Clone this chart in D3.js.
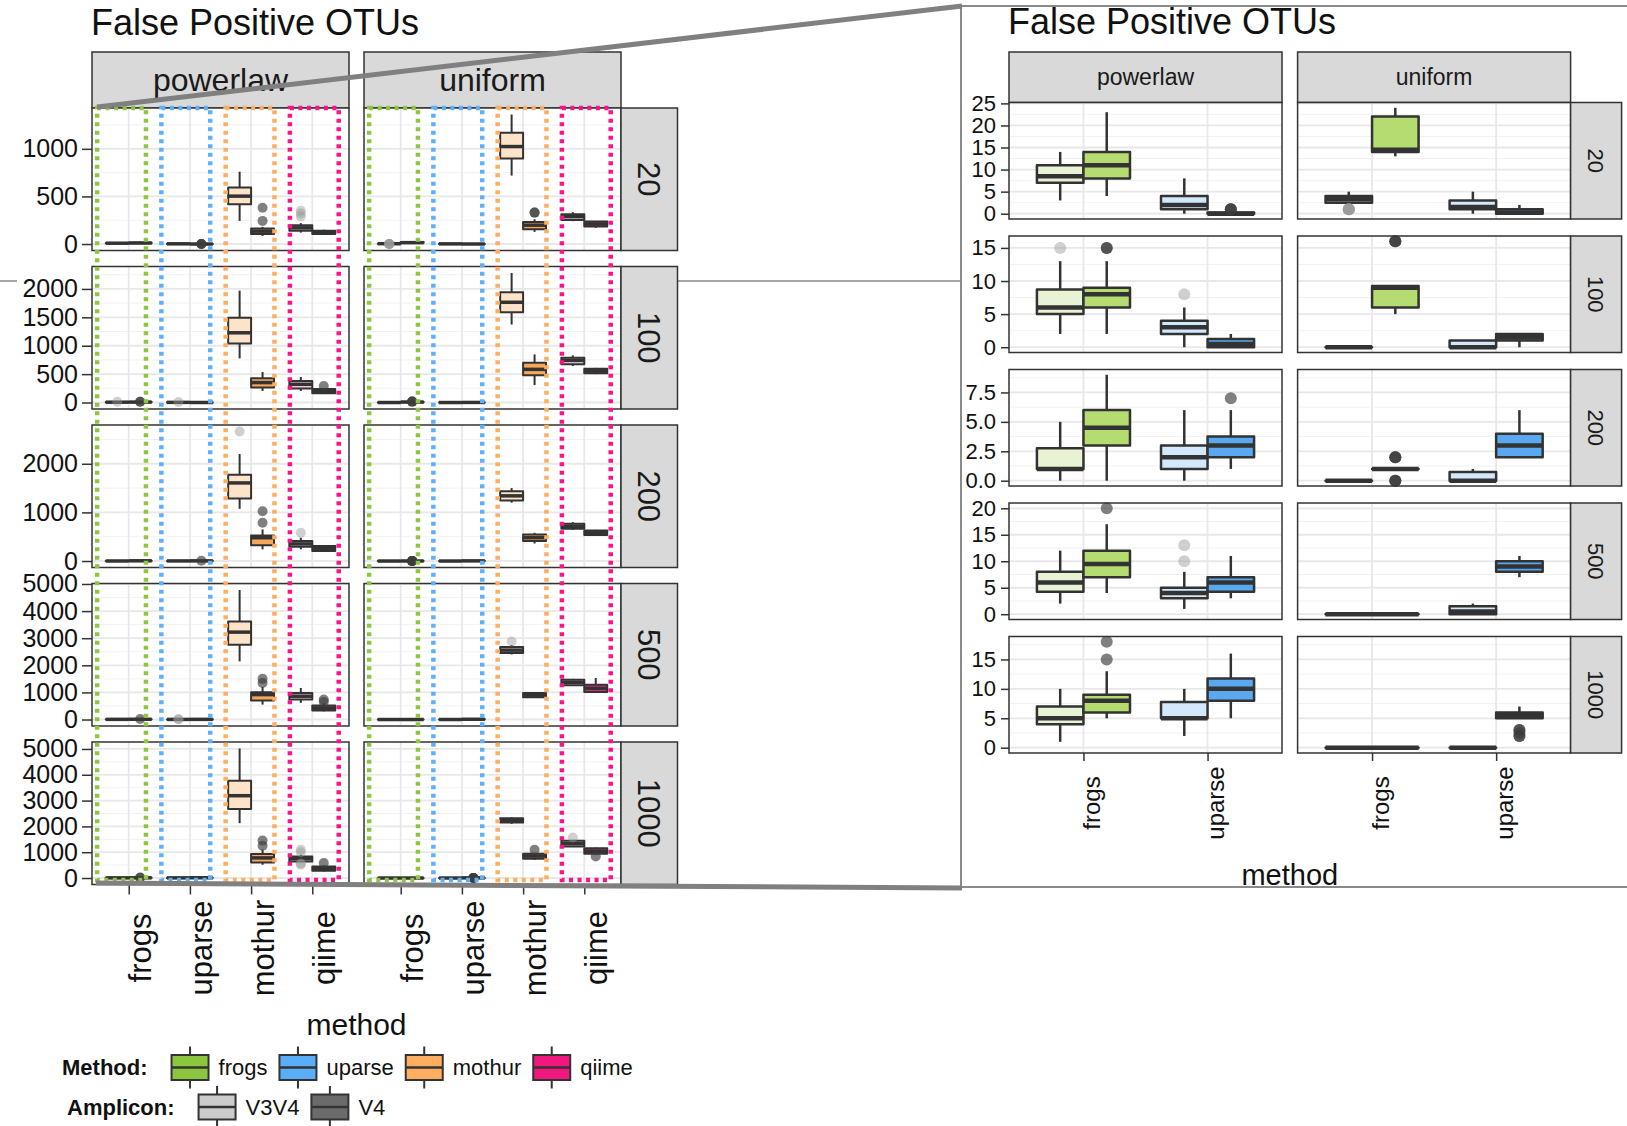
<!DOCTYPE html>
<html>
<head>
<meta charset="utf-8">
<script src="https://cdn.jsdelivr.net/npm/d3@7"></script>
<style>
	body { margin: 0; background: #fff; }
	svg { display: block; font-family: "Liberation Sans", Arial, sans-serif; }
</style>
</head>
<body>
<svg id="chart" width="1627" height="1126"></svg>
<script>
const svg = d3.select("svg#chart");

const methods = ["frogs", "uparse", "mothur", "qiime"];
const insetMethods = ["frogs", "uparse"];
const distributions = ["powerlaw", "uniform"];
const depths = ["20", "100", "200", "500", "1000"];
const amplicons = ["V3V4", "V4"];

// [distribution, method, amplicon, lower whisker, q1, median, q3, upper whisker, outliers]
const stats20 = [
	["powerlaw", "frogs", "V3V4", 3, 7, 8.5, 11, 14, []],
	["powerlaw", "frogs", "V4", 4, 8, 11, 14, 23, []],
	["powerlaw", "uparse", "V3V4", 0, 1, 2, 4, 8, []],
	["powerlaw", "uparse", "V4", 0, 0, 0, 0.25, 0.5, [1, 1, 1]],
	["powerlaw", "mothur", "V3V4", 243, 417, 503, 594, 760, []],
	["powerlaw", "mothur", "V4", 85, 104, 135, 163, 180, [243, 382]],
	["powerlaw", "qiime", "V3V4", 120, 139, 170, 198, 220, [290, 320, 350]],
	["powerlaw", "qiime", "V4", 95, 104, 125, 139, 150, []],
	["uniform", "frogs", "V3V4", 2, 2.5, 3.3, 4, 5, [1, 1, 1, 1, 1]],
	["uniform", "frogs", "V4", 13, 14, 14.5, 22, 24, []],
	["uniform", "uparse", "V3V4", 0, 1, 1.5, 3, 5, []],
	["uniform", "uparse", "V4", 0, 0, 0.3, 1, 2, []],
	["uniform", "mothur", "V3V4", 719, 899, 1024, 1170, 1361, []],
	["uniform", "mothur", "V4", 128, 156, 198, 232, 260, [330, 330]],
	["uniform", "qiime", "V3V4", 240, 253, 288, 312, 335, []],
	["uniform", "qiime", "V4", 170, 184, 210, 236, 240, []]
];
const stats100 = [
	["powerlaw", "frogs", "V3V4", 2, 5, 6, 8.7, 13, [15]],
	["powerlaw", "frogs", "V4", 2, 6, 8, 9, 13, [15, 15]],
	["powerlaw", "uparse", "V3V4", 0, 2, 3, 4, 6, [8]],
	["powerlaw", "uparse", "V4", 0, 0, 0.5, 1.25, 2, []],
	["powerlaw", "mothur", "V3V4", 777, 1040, 1228, 1491, 1970, []],
	["powerlaw", "mothur", "V4", 204, 263, 351, 426, 537, []],
	["powerlaw", "qiime", "V3V4", 204, 246, 321, 379, 449, []],
	["powerlaw", "qiime", "V4", 150, 163, 198, 240, 250, [291]],
	["uniform", "frogs", "V3V4", 0, 0, 0, 0, 0, []],
	["uniform", "frogs", "V4", 5, 6, 9, 9.25, 9.25, [16, 16, 16]],
	["uniform", "uparse", "V3V4", 0, 0, 0, 1, 1, []],
	["uniform", "uparse", "V4", 0, 1, 1.5, 2, 2, []],
	["uniform", "mothur", "V3V4", 1374, 1589, 1765, 1940, 2281, []],
	["uniform", "mothur", "V4", 309, 479, 584, 702, 847, []],
	["uniform", "qiime", "V3V4", 642, 672, 742, 789, 830, []],
	["uniform", "qiime", "V4", 500, 514, 556, 596, 610, []]
];
const stats200 = [
	["powerlaw", "frogs", "V3V4", 0, 1, 1, 2.75, 5, []],
	["powerlaw", "frogs", "V4", 0, 3, 4.5, 6, 9, []],
	["powerlaw", "uparse", "V3V4", 0, 1, 2, 3, 6, []],
	["powerlaw", "uparse", "V4", 1, 2, 3, 3.75, 6, [7]],
	["powerlaw", "mothur", "V3V4", 1073, 1285, 1606, 1776, 2200, [2664]],
	["powerlaw", "mothur", "V4", 240, 322, 479, 527, 650, [787, 1025]],
	["powerlaw", "qiime", "V3V4", 240, 295, 352, 410, 479, [582]],
	["powerlaw", "qiime", "V4", 190, 205, 260, 307, 320, []],
	["uniform", "frogs", "V3V4", 0, 0, 0, 0, 0, []],
	["uniform", "frogs", "V4", 1, 1, 1, 1, 1, [0, 0, 0, 2, 2, 2]],
	["uniform", "uparse", "V3V4", 0, 0, 0, 0.75, 1, []],
	["uniform", "uparse", "V4", 2, 2, 3, 4, 6, []],
	["uniform", "mothur", "V3V4", 1200, 1244, 1340, 1434, 1500, []],
	["uniform", "mothur", "V4", 360, 410, 480, 547, 580, []],
	["uniform", "qiime", "V3V4", 640, 664, 715, 766, 800, []],
	["uniform", "qiime", "V4", 520, 533, 580, 629, 640, []]
];
const stats500 = [
	["powerlaw", "frogs", "V3V4", 2, 4.25, 6, 8, 12, []],
	["powerlaw", "frogs", "V4", 4, 7, 9.5, 12, 17, [20]],
	["powerlaw", "uparse", "V3V4", 1, 3, 4, 5, 8, [10, 13]],
	["powerlaw", "uparse", "V4", 3, 4.25, 6, 7, 11, []],
	["powerlaw", "mothur", "V3V4", 2145, 2757, 3224, 3614, 4779, []],
	["powerlaw", "mothur", "V4", 551, 699, 919, 1004, 1200, [1350, 1500]],
	["powerlaw", "qiime", "V3V4", 614, 735, 860, 982, 1165, []],
	["powerlaw", "qiime", "V4", 300, 331, 420, 515, 600, [650, 735]],
	["uniform", "frogs", "V3V4", 0, 0, 0, 0, 0, []],
	["uniform", "frogs", "V4", 0, 0, 0, 0, 0, []],
	["uniform", "uparse", "V3V4", 0, 0, 0.5, 1.5, 2, []],
	["uniform", "uparse", "V4", 7, 8, 9, 10, 11, []],
	["uniform", "mothur", "V3V4", 2400, 2451, 2560, 2672, 2750, [2880]],
	["uniform", "mothur", "V4", 800, 820, 900, 982, 1000, []],
	["uniform", "qiime", "V3V4", 1250, 1261, 1370, 1471, 1500, []],
	["uniform", "qiime", "V4", 1000, 1018, 1150, 1287, 1533, []]
];
const stats1000 = [
	["powerlaw", "frogs", "V3V4", 1, 4, 5, 7, 10, []],
	["powerlaw", "frogs", "V4", 5, 6, 8, 9, 13, [15, 18]],
	["powerlaw", "uparse", "V3V4", 2, 5, 5, 7.75, 10, []],
	["powerlaw", "uparse", "V4", 5, 8, 10, 11.75, 16, []],
	["powerlaw", "mothur", "V3V4", 2124, 2676, 3189, 3768, 5019, []],
	["powerlaw", "mothur", "V4", 514, 602, 780, 927, 1100, [1250, 1450]],
	["powerlaw", "qiime", "V3V4", 620, 641, 750, 834, 900, [1000, 1100, 560, 520]],
	["powerlaw", "qiime", "V4", 250, 282, 370, 448, 480, [579]],
	["uniform", "frogs", "V3V4", 0, 0, 0, 0, 0, []],
	["uniform", "frogs", "V4", 0, 0, 0, 0, 0, []],
	["uniform", "uparse", "V3V4", 0, 0, 0, 0, 0, []],
	["uniform", "uparse", "V4", 5, 5, 5.5, 6, 7, [3, 3, 2.5, 2, 2]],
	["uniform", "mothur", "V3V4", 2100, 2147, 2230, 2317, 2350, []],
	["uniform", "mothur", "V4", 700, 745, 850, 938, 960, [1093]],
	["uniform", "qiime", "V3V4", 1200, 1220, 1330, 1440, 1460, [1568]],
	["uniform", "qiime", "V4", 900, 938, 1040, 1158, 1180, [834]]
];
const statsByDepth = [stats20, stats100, stats200, stats500, stats1000];

const leftTicks = [
	[0, 500, 1000],
	[0, 500, 1000, 1500, 2000],
	[0, 1000, 2000],
	[0, 1000, 2000, 3000, 4000, 5000],
	[0, 1000, 2000, 3000, 4000, 5000]
];
const insetTicks = [
	[0, 5, 10, 15, 20, 25],
	[0, 5, 10, 15],
	[0, 2.5, 5, 7.5],
	[0, 5, 10, 15, 20],
	[0, 5, 10, 15]
];

const methodColors = ["#8cc63f", "#5aaef8", "#ffae62", "#f0187f"];
const lightFills = ["#e8f2d4", "#d3e8fc", "#fde3c8", "#fbc8df"];
const strongFills = ["#b5dc70", "#5aa9f0", "#f7a75a", "#ec2c88"];
const dotColors = ["#8dc63f", "#5eb0fb", "#ffad5e", "#fe1289"];
const ampliconColors = ["#cccccc", "#6b6b6b"];
const outlierColors = ["rgba(150,150,150,0.45)", "rgba(60,60,60,0.65)"];

// thin connector line that sits behind the figures
svg.append("g")
	.selectAll("line")
	.data([[0, 17], [677, 961]])
	.join("line")
	.attr("x1", (d) => d[0])
	.attr("x2", (d) => d[1])
	.attr("y1", 281)
	.attr("y2", 281)
	.attr("stroke", "#8a8a8a")
	.attr("stroke-width", 1.5);

function drawFigure(opt) {
	const root = svg.append("g");

	root.append("text")
		.attr("x", opt.left - 1)
		.attr("y", opt.titleY)
		.style("font-size", "36px")
		.attr("fill", "#111")
		.text("False Positive OTUs");

	const xScales = distributions.map((dist, c) => {
		const x0 = opt.left + c * (opt.panelW + opt.gapX);
		return d3.scalePoint(opt.methods, [x0, x0 + opt.panelW]).padding(0.6);
	});

	distributions.forEach((dist, c) => {
		const [x0, x1] = xScales[c].range();
		root.append("rect")
			.attr("x", x0).attr("y", opt.stripTop)
			.attr("width", x1 - x0).attr("height", opt.top - opt.stripTop)
			.attr("fill", "#d9d9d9").attr("stroke", "#333").attr("stroke-width", 1.5);
		root.append("text")
			.attr("x", (x0 + x1) / 2)
			.attr("y", (opt.stripTop + opt.top) / 2)
			.attr("dy", "0.35em")
			.attr("text-anchor", "middle")
			.style("font-size", opt.stripFont + "px")
			.attr("fill", "#1a1a1a")
			.text(dist);
	});

	const stripX = opt.left + 2 * opt.panelW + opt.gapX;

	depths.forEach((depth, i) => {
		const rowTop = opt.top + i * (opt.rowH + opt.gapY);
		const rows = statsByDepth[i].filter((d) => opt.methods.includes(d[1]));
		const [lo, hi] = d3.extent(rows.flatMap((d) => [d[3], d[7], ...d[8]]));
		const pad = (hi - lo) * 0.05;
		const y = d3.scaleLinear([lo - pad, hi + pad], [rowTop + opt.rowH, rowTop]);
		const ticks = opt.ticks[i];
		const step = ticks[1] - ticks[0];
		const minor = d3.range(ticks[0] - step / 2, ticks[ticks.length - 1] + step, step)
			.filter((v) => v > y.domain()[0] && v < y.domain()[1]);

		distributions.forEach((dist, c) => {
			const x = xScales[c];
			const [x0, x1] = x.range();
			const panel = root.append("g");

			panel.append("rect")
				.attr("x", x0).attr("y", rowTop)
				.attr("width", x1 - x0).attr("height", opt.rowH)
				.attr("fill", "#fff");

			panel.selectAll(".minor").data(minor).join("line")
				.attr("class", "minor")
				.attr("x1", x0).attr("x2", x1)
				.attr("y1", (d) => y(d)).attr("y2", (d) => y(d))
				.attr("stroke", "#f2f2f2").attr("stroke-width", 1);
			panel.selectAll(".major").data(ticks).join("line")
				.attr("class", "major")
				.attr("x1", x0).attr("x2", x1)
				.attr("y1", (d) => y(d)).attr("y2", (d) => y(d))
				.attr("stroke", "#e8e8e8").attr("stroke-width", 1.8);
			panel.selectAll(".vgrid").data(opt.methods).join("line")
				.attr("class", "vgrid")
				.attr("x1", (d) => x(d)).attr("x2", (d) => x(d))
				.attr("y1", rowTop).attr("y2", rowTop + opt.rowH)
				.attr("stroke", "#e8e8e8").attr("stroke-width", 1.8);

			const hw = x.step() * 0.375;
			const cx = (d) => x(d[1]) + (d[2] === amplicons[0] ? -hw / 2 : hw / 2);
			const fill = (d) => {
				const m = methods.indexOf(d[1]);
				return d[2] === amplicons[0] ? lightFills[m] : strongFills[m];
			};

			const boxes = panel.selectAll(".box")
				.data(rows.filter((d) => d[0] === dist))
				.join("g")
				.attr("class", "box");

			boxes.append("line")
				.attr("x1", cx).attr("x2", cx)
				.attr("y1", (d) => y(d[3])).attr("y2", (d) => y(d[7]))
				.attr("stroke", "#333").attr("stroke-width", opt.whiskerW);
			boxes.append("path")
				.attr("d", (d) => `M${cx(d) - hw / 2},${y(d[6])}H${cx(d) + hw / 2}V${y(d[4])}H${cx(d) - hw / 2}Z`)
				.attr("fill", fill)
				.attr("stroke", "#333").attr("stroke-width", opt.boxW)
				.attr("stroke-linejoin", "round");
			boxes.append("line")
				.attr("x1", (d) => cx(d) - hw / 2).attr("x2", (d) => cx(d) + hw / 2)
				.attr("y1", (d) => y(d[5])).attr("y2", (d) => y(d[5]))
				.attr("stroke", "#333").attr("stroke-width", opt.medianW);
			boxes.selectAll("circle")
				.data((d) => d[8].map((v) => ({ v, cx: cx(d), a: amplicons.indexOf(d[2]) })))
				.join("circle")
				.attr("cx", (o) => o.cx)
				.attr("cy", (o) => y(o.v))
				.attr("r", opt.radius)
				.attr("fill", (o) => outlierColors[o.a]);

			panel.append("rect")
				.attr("x", x0).attr("y", rowTop)
				.attr("width", x1 - x0).attr("height", opt.rowH)
				.attr("fill", "none").attr("stroke", "#333").attr("stroke-width", 1.5);
		});

		// row strip
		root.append("rect")
			.attr("x", stripX).attr("y", rowTop)
			.attr("width", opt.rowStripW).attr("height", opt.rowH)
			.attr("fill", "#d9d9d9").attr("stroke", "#333").attr("stroke-width", 1.5);
		root.append("text")
			.attr("transform", `translate(${stripX + opt.rowStripW / 2},${rowTop + opt.rowH / 2}) rotate(90)`)
			.attr("dy", "0.35em")
			.attr("text-anchor", "middle")
			.style("font-size", opt.rowStripFont + "px")
			.attr("fill", "#1a1a1a")
			.text(depth);

		// y axis
		const fmt = ticks.some((t) => !Number.isInteger(t)) ? d3.format(".1f") : d3.format("d");
		root.append("g")
			.attr("transform", `translate(${opt.left},0)`)
			.call(d3.axisLeft(y).tickValues(ticks).tickFormat(fmt).tickSize(opt.tickLen).tickPadding(opt.tickPad))
			.attr("font-family", null).attr("font-size", null)
			.call((g) => g.select(".domain").remove())
			.call((g) => g.selectAll("line").attr("stroke", "#333").attr("stroke-width", 1.5))
			.call((g) => g.selectAll("text").style("font-size", opt.yFont + "px").attr("fill", "#111"));

		if (i === depths.length - 1) {
			distributions.forEach((dist, c) => {
				root.append("g")
					.attr("transform", `translate(0,${rowTop + opt.rowH})`)
					.call(d3.axisBottom(xScales[c]).tickSize(opt.tickLen))
					.attr("font-family", null).attr("font-size", null)
					.call((g) => g.select(".domain").remove())
					.call((g) => g.selectAll("line").attr("stroke", "#333").attr("stroke-width", 1.5))
					.call((g) => g.selectAll("text")
						.attr("transform", "rotate(-90)")
						.attr("x", -opt.xLabelMid)
						.attr("y", opt.xLabelBase)
						.attr("dy", null)
						.attr("text-anchor", "middle")
						.style("font-size", opt.xFont + "px")
						.attr("fill", "#111"));
			});
		}
	});

	root.append("text")
		.attr("x", opt.left + opt.panelW + opt.gapX / 2)
		.attr("y", opt.xTitleY)
		.attr("text-anchor", "middle")
		.style("font-size", opt.xTitleFont + "px")
		.attr("fill", "#111")
		.text("method");

	return xScales;
}

const leftX = drawFigure({
	methods: methods, ticks: leftTicks,
	left: 92, panelW: 257, gapX: 15, stripTop: 52, top: 108,
	rowH: 142.5, gapY: 16, rowStripW: 56.5,
	tickLen: 10, tickPad: 4, titleY: 35,
	stripFont: 32, rowStripFont: 31, yFont: 25, xFont: 31, xTitleFont: 30,
	xLabelMid: 63.5, xLabelBase: 22, xTitleY: 1035,
	boxW: 2, medianW: 3.5, whiskerW: 2, radius: 5
});

drawFigure({
	methods: insetMethods, ticks: insetTicks,
	left: 1009, panelW: 273, gapX: 15.6, stripTop: 52, top: 102.5,
	rowH: 116.5, gapY: 17, rowStripW: 51,
	tickLen: 8, tickPad: 5, titleY: 34,
	stripFont: 23, rowStripFont: 22, yFont: 22, xFont: 24, xTitleFont: 29,
	xLabelMid: 50, xLabelBase: 16, xTitleY: 885,
	boxW: 2.5, medianW: 4.5, whiskerW: 2.5, radius: 6
});

// dotted frames around each method group of the left figure
const frames = svg.append("g");
leftX.forEach((x) => {
	const [x0, x1] = x.range();
	const w = x1 - x0;
	const frameX = d3.scaleLinear([0, methods.length - 1], [x0 + 0.115 * w, x0 + 0.865 * w]);
	frames.selectAll(null)
		.data(methods)
		.join("rect")
		.attr("x", (d, i) => frameX(i) - 0.095 * w)
		.attr("y", 108)
		.attr("width", 0.19 * w)
		.attr("height", 772)
		.attr("fill", "none")
		.attr("stroke", (d, i) => dotColors[i])
		.attr("stroke-width", 4.5)
		.attr("stroke-dasharray", "4,4.5");
});

// zoom callout lines and inset frame
svg.append("rect")
	.attr("x", 961).attr("y", 6)
	.attr("width", 700).attr("height", 881)
	.attr("fill", "none").attr("stroke", "#8a8a8a").attr("stroke-width", 2);
svg.append("g")
	.selectAll("line")
	.data([[97, 107, 962, 6], [96, 883, 962, 888]])
	.join("line")
	.attr("x1", (d) => d[0]).attr("y1", (d) => d[1])
	.attr("x2", (d) => d[2]).attr("y2", (d) => d[3])
	.attr("stroke", "#808080").attr("stroke-width", 5);

// legend
function legendRow(title, labels, fills, titleX, midY) {
	const g = svg.append("g");
	const t = g.append("text")
		.attr("x", titleX).attr("y", midY).attr("dy", "0.35em")
		.style("font-size", "22px").style("font-weight", "bold")
		.attr("fill", "#111")
		.text(title);
	let kx = titleX + t.node().getComputedTextLength() + 24;
	labels.forEach((label, i) => {
		const key = g.append("g");
		key.append("line")
			.attr("x1", kx + 18.5).attr("x2", kx + 18.5)
			.attr("y1", midY - 21).attr("y2", midY + 21)
			.attr("stroke", "#333").attr("stroke-width", 2);
		key.append("rect")
			.attr("x", kx).attr("y", midY - 12.5)
			.attr("width", 37).attr("height", 25)
			.attr("fill", fills[i]).attr("stroke", "#333").attr("stroke-width", 2);
		key.append("line")
			.attr("x1", kx).attr("x2", kx + 37)
			.attr("y1", midY).attr("y2", midY)
			.attr("stroke", "#333").attr("stroke-width", 2.5);
		const lt = g.append("text")
			.attr("x", kx + 47).attr("y", midY).attr("dy", "0.35em")
			.style("font-size", "22px")
			.attr("fill", "#111")
			.text(label);
		kx += 47 + lt.node().getComputedTextLength() + 12;
	});
}
legendRow("Method:", methods, methodColors, 62, 1067.5);
legendRow("Amplicon:", amplicons, ampliconColors, 67, 1107);
</script>
</body>
</html>
